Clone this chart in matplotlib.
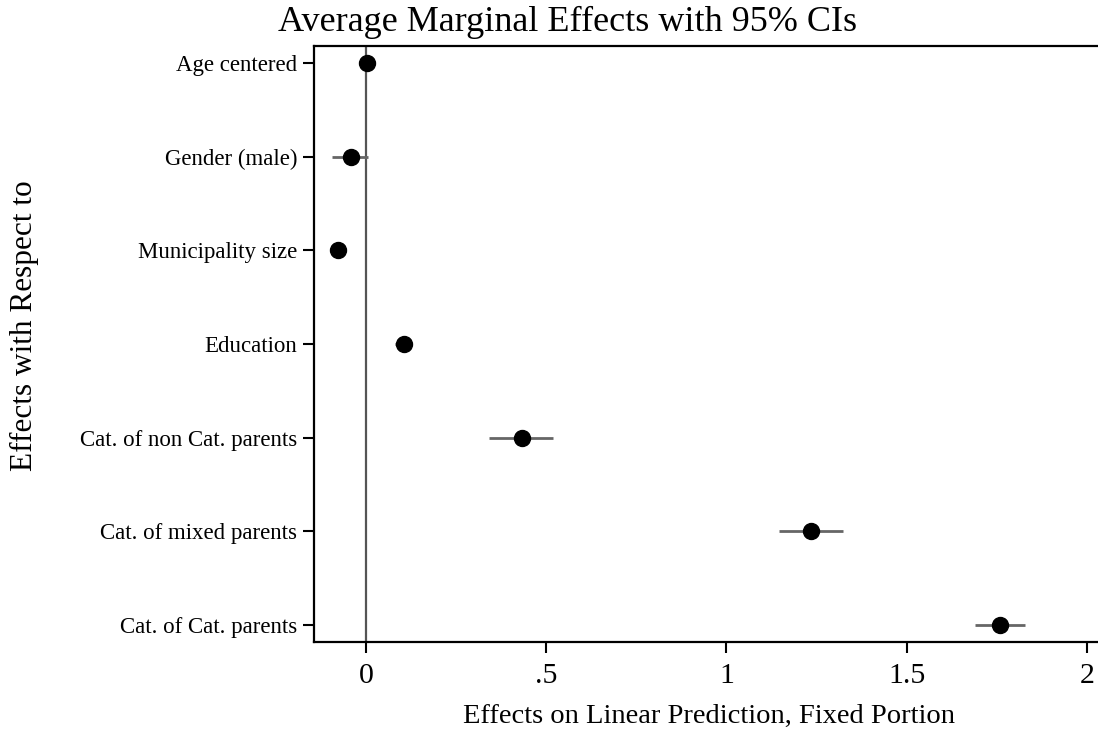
import numpy as np
import matplotlib
matplotlib.use('Agg')
import matplotlib.pyplot as plt

plt.rcParams['font.family'] = ['Liberation Serif', 'DejaVu Serif']

labels = ['Age centered', 'Gender (male)', 'Municipality size', 'Education',
          'Cat. of non Cat. parents', 'Cat. of mixed parents', 'Cat. of Cat. parents']
effects = [0.004, -0.042, -0.078, 0.105, 0.432, 1.234, 1.759]
ci_low = [0.000, -0.093, -0.082, 0.080, 0.342, 1.146, 1.690]
ci_high = [0.008, 0.007, -0.074, 0.128, 0.520, 1.322, 1.828]
xticks = [0, 0.5, 1, 1.5, 2]
xticklabels = ['0', '.5', '1', '1.5', '2']

fig = plt.figure(figsize=(10.98, 7.33), dpi=100)
ax = fig.add_axes([314/1098, 1 - 642/733, (1110-314)/1098, (642-46)/733])

ypos = np.arange(1, len(labels) + 1)
ax.axvline(0, color='#555555', lw=1.6, zorder=1)
ax.hlines(ypos, ci_low, ci_high, color='#666666', lw=2, zorder=2)
ax.plot(effects, ypos, 'o', color='black', ms=11.5, zorder=3)

ax.set_xlim(-0.144, 2.064)
ax.set_ylim(7.18, 0.82)
ax.set_yticks(ypos)
ax.set_yticklabels(labels, fontsize=16.5)
ax.set_xticks(xticks)
ax.set_xticklabels(xticklabels, fontsize=21.5)
ax.tick_params(axis='both', length=8, width=1.5, direction='out')
ax.tick_params(axis='x', pad=7)
ax.tick_params(axis='y', pad=4)
for s in ax.spines.values():
    s.set_linewidth(1.6)
ax.spines['right'].set_visible(False)

fig.text(567/1098, 1 - 22/733, 'Average Marginal Effects with 95% CIs',
         ha='center', va='center', fontsize=26)
fig.text(709/1098, 1 - 716/733, 'Effects on Linear Prediction, Fixed Portion',
         ha='center', va='center', fontsize=20.5)
fig.text(24/1098, 1 - 326/733, 'Effects with Respect to', rotation=90,
         ha='center', va='center', fontsize=22.5)

fig.savefig('out.png', dpi=100)
